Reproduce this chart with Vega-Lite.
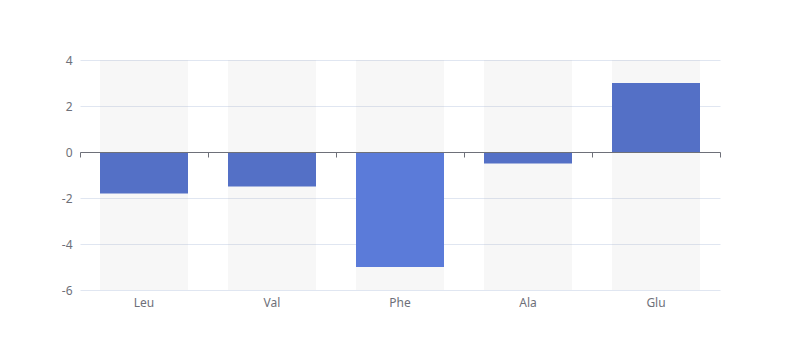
{
  "$schema": "https://vega.github.io/schema/vega-lite/v6.json",
  "width": 640,
  "height": 230,
  "autosize": {"type": "none"},
  "padding": {"left": 80, "top": 60, "right": 80, "bottom": 70},
  "background": "white",
  "config": {
    "view": {"stroke": null},
    "axis": {"labelFont": "Noto Sans", "labelFontSize": 12, "labelColor": "#6e7079"}
  },
  "data": {"values": [
    {"aa": "Leu", "v": -1.8},
    {"aa": "Val", "v": -1.5},
    {"aa": "Phe", "v": -5},
    {"aa": "Ala", "v": -0.5},
    {"aa": "Glu", "v": 3}
  ]},
  "resolve": {"axis": {"x": "independent"}},
  "layer": [
    {
      "mark": {"type": "bar", "width": {"band": 0.6875}, "color": "#b4b4b4", "opacity": 0.1},
      "encoding": {
        "x": {"field": "aa", "type": "nominal", "sort": null,
              "scale": {"paddingInner": 0, "paddingOuter": 0},
              "axis": {"title": null, "orient": "bottom", "labelAngle": 0, "domain": false, "ticks": false, "labelPadding": 7, "grid": false}},
        "y": {"datum": 4, "type": "quantitative",
              "scale": {"domain": [-6, 4], "nice": false, "zero": false},
              "axis": {"title": null, "values": [-6, -4, -2, 0, 2, 4], "labelExpr": "'' + datum.value", "domain": false, "ticks": false, "labelPadding": 8, "grid": true, "gridColor": "#e0e6f1", "gridWidth": 1, "gridOpacity": 1}},
        "y2": {"datum": -6}
      }
    },
    {
      "mark": {"type": "bar", "width": {"band": 0.6875}},
      "encoding": {
        "x": {"field": "aa", "type": "nominal", "sort": null,
              "axis": {"title": null, "orient": "bottom", "labels": false, "domain": true, "domainColor": "#6e7079", "ticks": true, "tickColor": "#6e7079", "tickSize": 5, "tickBand": "extent", "offset": -138, "grid": false, "zindex": 1}},
        "y": {"field": "v", "type": "quantitative",
              "axis": {"title": null, "values": [-6, -4, -2, 0, 2, 4], "labelExpr": "'' + datum.value", "domain": false, "ticks": false, "labelPadding": 8, "grid": true, "gridColor": "#e0e6f1", "gridWidth": 1, "gridOpacity": 1}},
        "color": {
          "condition": {"test": "datum.aa === 'Phe'", "value": "#5b7bd9"},
          "value": "#5470c6"
        }
      }
    }
  ]
}
